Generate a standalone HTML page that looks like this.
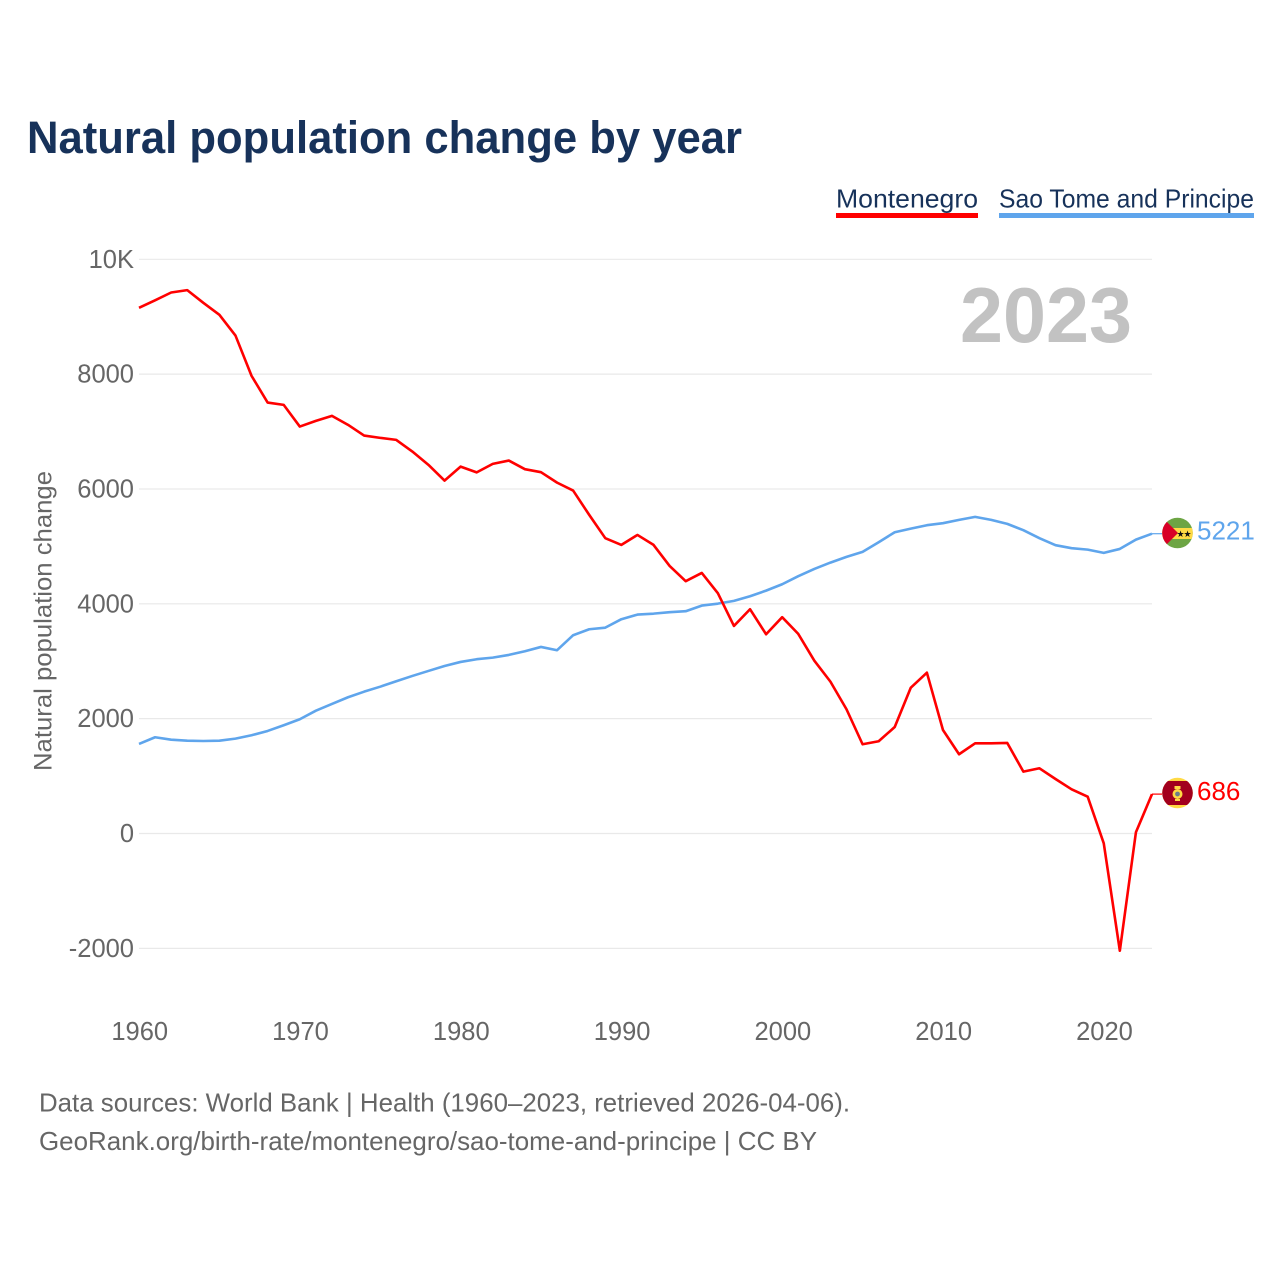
<!DOCTYPE html>
<html lang="en">
<head>
<meta charset="utf-8">
<title>Natural population change by year</title>
<style>
html,body{margin:0;padding:0;background:#fff;}
svg{display:block;font-family:"Liberation Sans",sans-serif;}
</style>
</head>
<body>
<svg id="chart" width="1280" height="1280" viewBox="0 0 1280 1280" xmlns="http://www.w3.org/2000/svg">
  <rect x="0" y="0" width="1280" height="1280" fill="#ffffff"/>
  <text x="27" y="153" font-size="45" font-weight="700" fill="#17325a" textLength="715" lengthAdjust="spacingAndGlyphs">Natural population change by year</text>

  <g>
    <text x="836" y="207.5" font-size="26" fill="#17325a" textLength="142" lengthAdjust="spacingAndGlyphs">Montenegro</text>
    <rect x="836" y="213" width="142" height="5" fill="#ff0000"/>
  </g>
  <g>
    <text x="999" y="207.5" font-size="26" fill="#17325a" textLength="255" lengthAdjust="spacingAndGlyphs">Sao Tome and Principe</text>
    <rect x="999" y="213" width="255" height="5" fill="#5fa5ec"/>
  </g>

  <g id="grid"></g>
  <g id="yticks"></g>
  <g id="xticks"></g>

  <text transform="translate(51.5 771) rotate(-90)" x="0" y="0" font-size="25" fill="#666666" textLength="300" lengthAdjust="spacingAndGlyphs">Natural population change</text>
  <text x="1132" y="342" font-size="78" font-weight="700" fill="#c2c2c2" text-anchor="end" textLength="172" lengthAdjust="spacingAndGlyphs">2023</text>

  <g id="series"></g>

  <defs>
    <clipPath id="flag-clip-st"><circle cx="1177.5" cy="533" r="15.3"/></clipPath>
    <clipPath id="flag-clip-me"><circle cx="1177.5" cy="793" r="15.3"/></clipPath>
  </defs>

  <g clip-path="url(#flag-clip-st)">
    <rect x="1160" y="515" width="36" height="36" fill="#6da544"/>
    <rect x="1160" y="528" width="36" height="11" fill="#ffda44"/>
    <polygon points="1160,515 1178,533 1160,551" fill="#d80027"/>
    <text x="1180.5" y="537" font-size="9" fill="#111" text-anchor="middle">★</text>
    <text x="1187.5" y="537" font-size="9" fill="#111" text-anchor="middle">★</text>
  </g>
  <g clip-path="url(#flag-clip-me)">
    <rect x="1160" y="775" width="36" height="36" fill="#ffda44"/>
    <rect x="1160" y="781" width="36" height="24" fill="#a2001d"/>
    <rect x="1174.5" y="786" width="6" height="3" fill="#ffda44"/>
    <circle cx="1177.5" cy="794" r="5" fill="#ffda44"/>
    <circle cx="1177.5" cy="794" r="2.4" fill="#6b7f8c"/>
    <rect x="1175" y="799" width="5" height="2" fill="#ffda44"/>
  </g>

  <text x="39" y="1111.5" font-size="26" fill="#666666" textLength="811" lengthAdjust="spacingAndGlyphs">Data sources: World Bank | Health (1960–2023, retrieved 2026-04-06).</text>
  <text x="39" y="1150" font-size="26" fill="#666666" textLength="778" lengthAdjust="spacingAndGlyphs">GeoRank.org/birth-rate/montenegro/sao-tome-and-principe | CC BY</text>
</svg>
<script>
const startYear = 1960;
const montenegro = [9155,9286,9422,9463,9242,9033,8672,7970,7505,7465,7087,7186,7274,7117,6930,6890,6855,6652,6420,6146,6390,6289,6437,6495,6345,6293,6111,5972,5549,5143,5026,5200,5026,4660,4394,4538,4185,3615,3906,3470,3767,3476,3009,2645,2164,1554,1606,1855,2540,2801,1803,1380,1571,1571,1577,1077,1136,949,770,641,-171,-2042,21,686];
const saoTome = [1559,1676,1634,1617,1611,1617,1652,1711,1786,1885,1990,2139,2256,2373,2470,2557,2652,2744,2831,2918,2988,3035,3063,3110,3174,3249,3192,3453,3557,3585,3732,3812,3829,3854,3871,3969,4003,4051,4132,4230,4341,4481,4608,4718,4817,4904,5073,5247,5310,5369,5404,5462,5514,5462,5392,5282,5143,5021,4969,4944,4887,4956,5118,5221];
const yTickValues = [-2000,0,2000,4000,6000,8000,10000];
const yTickLabels = ['-2000','0','2000','4000','6000','8000','10K'];
const xTickYears = [1960,1970,1980,1990,2000,2010,2020];

const NS = 'http://www.w3.org/2000/svg';
function xScale(year){ return 139 + (year - 1960) * (1152 - 139) / 63; }
function yScale(value){ return 833.5 - value * 0.05742; }

function make(tag, attrs, parent, text){
  const el = document.createElementNS(NS, tag);
  Object.keys(attrs).forEach(function(k){ el.setAttribute(k, attrs[k]); });
  if (text !== undefined) el.textContent = text;
  parent.appendChild(el);
  return el;
}

const grid = document.getElementById('grid');
const yticks = document.getElementById('yticks');
const xticks = document.getElementById('xticks');
const series = document.getElementById('series');

yTickValues.forEach(function(v, i){
  const y = yScale(v);
  const line = make('line', {x1:139, x2:1152, y1:y, y2:y, stroke:'#e9e9e9', 'stroke-width':1.2}, grid);
  
  
  const label = make('text', {x:134, y:y + 8.5, 'font-size':25.5, fill:'#666666', 'text-anchor':'end'}, yticks, yTickLabels[i]);
  
  
});

xTickYears.forEach(function(year){
  const label = make('text', {x:xScale(year) + 0.7, y:1040, 'font-size':25.5, fill:'#666666', 'text-anchor':'middle'}, xticks, String(year));
  
  
});

function drawSeries(values, color, nameLine, nameConnector, nameValue){
  const pts = values.map(function(v, i){ return xScale(startYear + i).toFixed(2) + ',' + yScale(v).toFixed(2); });
  const lastValue = values[values.length - 1];
  const lastX = xScale(startYear + values.length - 1);
  const lastY = yScale(lastValue);
  const poly = make('polyline', {points:pts.join(' '), fill:'none', stroke:color, 'stroke-width':2.6, 'stroke-linejoin':'round'}, series);
  
  
  const conn = make('line', {x1:lastX, x2:lastX + 10, y1:lastY, y2:lastY, stroke:color, 'stroke-width':1.2}, series);
  
  
  const valueText = make('text', {x:1197, y:lastY + 6, 'font-size':26, fill:color}, series, String(lastValue));
  
  
}

drawSeries(saoTome, '#5fa5ec', 'line-sao-tome', 'connector-sao-tome', 'end-value-sao-tome');
drawSeries(montenegro, '#ff0000', 'line-montenegro', 'connector-montenegro', 'end-value-montenegro');
</script>
</body>
</html>
